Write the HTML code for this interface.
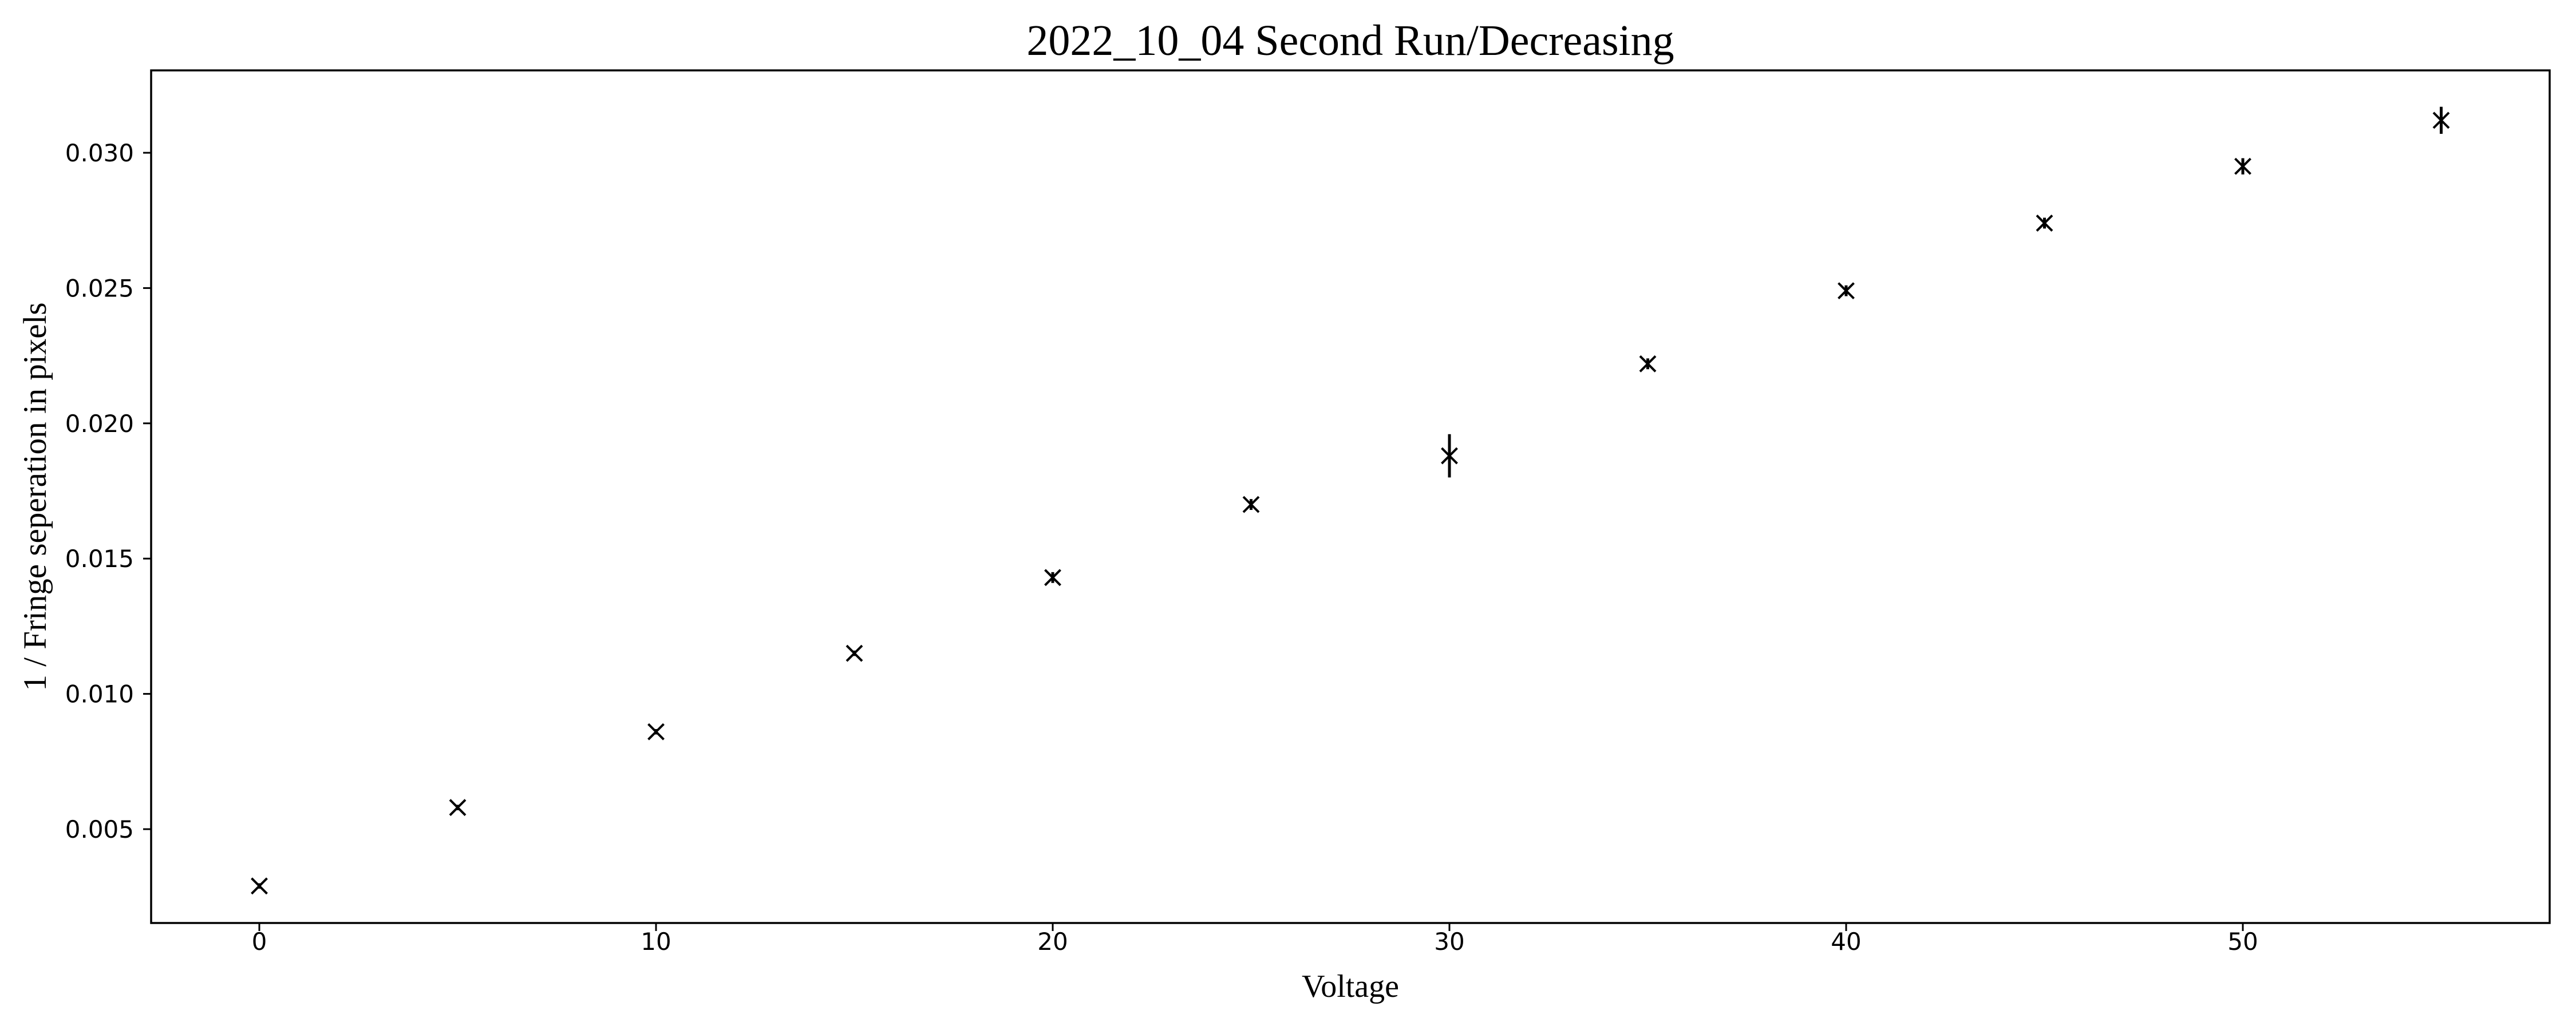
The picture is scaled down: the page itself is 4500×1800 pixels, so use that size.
<!DOCTYPE html>
<html><head><meta charset="utf-8"><style>
html,body{margin:0;padding:0;background:#fff;}
svg{display:block;}
</style></head><body>
<svg id="chart" width="4500" height="1800" viewBox="0 0 4500 1800" xmlns="http://www.w3.org/2000/svg">
<rect x="0" y="0" width="4500" height="1800" fill="#fff"/>
<text x="2359" y="96" font-family="Liberation Serif, serif" font-size="76" text-anchor="middle">2022_10_04 Second Run/Decreasing</text>
<text x="2359" y="1742" font-family="Liberation Serif, serif" font-size="56" text-anchor="middle">Voltage</text>
<text transform="translate(80,868) rotate(-90)" font-family="Liberation Serif, serif" font-size="57" text-anchor="middle">1 / Fringe seperation in pixels</text>
<g id="ticks"></g>
<g id="marks"></g>
<rect x="264" y="123" width="4190" height="1490" fill="none" stroke="#000" stroke-width="3.5"/>
</svg>
<script>
const xValues = [0,5,10,15,20,25,30,35,40,45,50,55];
const yValues = [0.0029,0.0058,0.0086,0.0115,0.0143,0.0170,0.0188,0.0222,0.0249,0.0274,0.0295,0.0312];
const yErrors = [0.0001,0.0001,0.0001,0.0001,0.0002,0.0002,0.0008,0.0002,0.0002,0.0002,0.0003,0.0005];
const xTicks = [0,10,20,30,40,50];
const yTicks = [0.005,0.010,0.015,0.020,0.025,0.030];

const NS = 'http://www.w3.org/2000/svg';
function xs(v){ return 453 + v * (346.5/5); }
function ys(v){ return 267 + (0.030 - v) / 0.005 * 236.4; }
function mk(tag, attrs, parent){
  const e = document.createElementNS(NS, tag);
  for (const k in attrs) e.setAttribute(k, attrs[k]);
  parent.appendChild(e);
  return e;
}
const tg = document.getElementById('ticks');
xTicks.forEach(t => {
  const x = xs(t);
  const l = mk('line', {x1:x, x2:x, y1:1613, y2:1627, stroke:'#000', 'stroke-width':3}, tg);
  
  
  const tx = mk('text', {x:x, y:1660, 'font-family':'DejaVu Sans, sans-serif', 'font-size':42, 'text-anchor':'middle'}, tg);
  tx.textContent = String(t);
  
  
});
yTicks.forEach(t => {
  const y = ys(t);
  const l = mk('line', {x1:250, x2:264, y1:y, y2:y, stroke:'#000', 'stroke-width':3}, tg);
  
  
  const tx = mk('text', {x:234, y:y+15, 'font-family':'DejaVu Sans, sans-serif', 'font-size':42, 'text-anchor':'end'}, tg);
  tx.textContent = t.toFixed(3);
  
  
});
const mg = document.getElementById('marks');
xValues.forEach((xv, i) => {
  const cx = xs(xv), cy = ys(yValues[i]);
  const g = mk('g', {}, mg);
  
  
  const e1 = ys(yValues[i] + yErrors[i]), e2 = ys(yValues[i] - yErrors[i]);
  const eb = mk('line', {x1:cx, x2:cx, y1:e1, y2:e2, stroke:'#000', 'stroke-width':5}, g);
  
  
  const h = 13.5;
  const p = mk('path', {d:`M${cx-h},${cy-h}L${cx+h},${cy+h}M${cx-h},${cy+h}L${cx+h},${cy-h}`, stroke:'#000', 'stroke-width':4, fill:'none'}, g);
  
  
});
</script>
</body></html>
